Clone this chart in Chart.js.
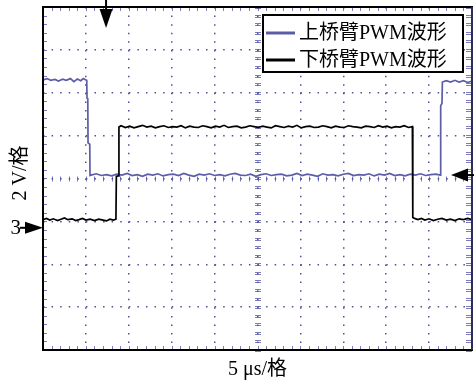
<!DOCTYPE html>
<html><head><meta charset="utf-8">
<script src="https://cdn.jsdelivr.net/npm/chart.js@4"></script>
<style>html,body{margin:0;padding:0;background:#fff;overflow:hidden}</style>
</head><body>
<canvas id="c" width="474" height="380"></canvas>
<script>
// ---- data ----
const seriesNames = ['上桥臂PWM波形', '下桥臂PWM波形'];
const xLabel = '5 μs/格';
const yLabel = '2 V/格';
const channelMark = '3';
const xTicks = [0, 5, 10, 15, 20, 25, 30, 35, 40, 45, 50];      // μs
const yTicks = [-8, -6, -4, -2, 0, 2, 4, 6, 8];                 // V
const triggerTime = 7.35;     // μs
const triggerLevel = 0.16;    // V
const channelGround = -2.3;   // V

const upperTime = [0, 0.5, 0.9, 1.4, 1.8, 2.3, 2.7, 3.2, 3.6, 4.0, 4.4, 4.7, 5.0, 5.1, 5.13, 5.22, 5.25, 5.45, 5.48,
  5.6, 6.2, 6.8, 7.4, 8.0, 8.6, 9.2, 9.8, 10.4, 11.0, 11.6, 12.2, 12.8, 13.4, 14.0, 14.6, 15.2, 15.8, 16.4, 17.0,
  17.6, 18.2, 18.8, 19.4, 20.0, 20.6, 21.2, 21.8, 22.4, 23.0, 23.6, 24.2, 24.8, 25.4, 26.0, 26.6, 27.2, 27.8,
  28.4, 29.0, 29.6, 30.2, 30.8, 31.4, 32.0, 32.6, 33.2, 33.8, 34.4, 35.0, 35.6, 36.2, 36.8, 37.4, 38.0, 38.6,
  39.2, 39.8, 40.4, 41.0, 41.6, 42.2, 42.8, 43.4, 44.0, 44.6, 45.2, 45.8, 46.3,
  46.35, 46.5, 46.55, 47.0, 47.5, 48.0, 48.5, 49.0, 49.5, 50];
const upperVolt = [4.60, 4.66, 4.58, 4.62, 4.55, 4.63, 4.58, 4.66, 4.52, 4.64, 4.56, 4.66, 4.60, 4.58, 3.75, 3.70, 1.66, 1.60, 0.14,
  0.16, 0.22, 0.14, 0.18, 0.12, 0.20, 0.16, 0.24, 0.14, 0.18, 0.10, 0.20, 0.16, 0.22, 0.12, 0.18, 0.20, 0.14, 0.24, 0.16,
  0.10, 0.20, 0.16, 0.22, 0.14, 0.18, 0.12, 0.20, 0.24, 0.16, 0.14, 0.20, 0.10, 0.18, 0.22, 0.14, 0.18, 0.20,
  0.12, 0.16, 0.24, 0.14, 0.20, 0.16, 0.10, 0.22, 0.16, 0.18, 0.12, 0.20, 0.24, 0.14, 0.18, 0.16, 0.22, 0.12,
  0.20, 0.16, 0.24, 0.14, 0.18, 0.12, 0.20, 0.16, 0.22, 0.14, 0.18, 0.20, 0.16,
  3.40, 3.50, 4.50, 4.56, 4.50, 4.58, 4.50, 4.56, 4.48, 4.54];

const lowerTime = [0, 0.4, 0.8, 1.2, 1.7, 2.1, 2.5, 2.9, 3.4, 3.8, 4.2, 4.6, 5.0, 5.5, 6.0, 6.5, 7.0, 7.4, 7.8, 8.2, 8.5,
  8.55, 8.75, 8.85,
  9.1, 9.6, 10.1, 10.6, 11.1, 11.6, 12.1, 12.6, 13.1, 13.6, 14.1, 14.6, 15.1, 15.6, 16.1, 16.6, 17.1, 17.6, 18.1,
  18.6, 19.1, 19.6, 20.1, 20.6, 21.1, 21.6, 22.1, 22.6, 23.1, 23.6, 24.1, 24.6, 25.1, 25.6, 26.1, 26.6, 27.1,
  27.6, 28.1, 28.6, 29.1, 29.6, 30.1, 30.6, 31.1, 31.6, 32.1, 32.6, 33.1, 33.6, 34.1, 34.6, 35.1, 35.6, 36.1,
  36.6, 37.1, 37.6, 38.1, 38.6, 39.1, 39.6, 40.1, 40.6, 41.1, 41.6, 42.1, 42.6, 43.05,
  43.1, 43.3, 43.7, 44.1, 44.5, 45.0, 45.5, 46.0, 46.5, 47.0, 47.5, 48.0, 48.5, 49.0, 49.5, 50];
const lowerVolt = [-1.92, -1.86, -1.94, -1.88, -1.96, -1.90, -1.84, -1.92, -1.88, -1.96, -1.92, -1.86, -1.94, -1.90, -1.96, -1.90, -1.94, -1.98, -1.90, -1.94, -1.90,
  0.10, 0.12, 2.40,
  2.46, 2.38, 2.44, 2.36, 2.42, 2.48, 2.40, 2.44, 2.36, 2.42, 2.46, 2.38, 2.42, 2.40, 2.46, 2.36, 2.44, 2.40, 2.38,
  2.46, 2.42, 2.36, 2.44, 2.40, 2.48, 2.38, 2.42, 2.44, 2.36, 2.40, 2.46, 2.42, 2.38, 2.44, 2.40, 2.36, 2.46,
  2.42, 2.38, 2.44, 2.40, 2.48, 2.36, 2.42, 2.44, 2.38, 2.40, 2.46, 2.42, 2.36, 2.44, 2.40, 2.38, 2.46, 2.42,
  2.40, 2.36, 2.44, 2.42, 2.38, 2.46, 2.40, 2.44, 2.36, 2.42, 2.40, 2.46, 2.38, 2.42,
  -1.82, -1.86, -1.92, -1.86, -1.94, -1.88, -1.96, -1.90, -1.86, -1.94, -1.90, -1.96, -1.88, -1.92, -1.86, -1.92];

// ---- styles ----
const upperColor = '#5b5ea6';
const lowerColor = '#000000';
const gridColor = 'rgba(70,70,150,0.95)';
const tickColor = 'rgba(80,80,160,0.75)';
const serif = '"Liberation Serif", "Noto Sans CJK SC", serif';

const toPoints = (ts, vs) => ts.map((t, i) => ({x: t, y: vs[i]}));

const scopePlugin = {
  id: 'scope',
  beforeDatasetsDraw(chart) {
    const {ctx, chartArea: a, scales: {x, y}} = chart;
    ctx.save();
    ctx.strokeStyle = tickColor;
    ctx.lineWidth = 1;
    const cx = Math.round(x.getPixelForValue(25)), cy = y.getPixelForValue(0);
    ctx.beginPath();
    for (let t = xTicks[0]; t <= xTicks[xTicks.length - 1] + 1e-9; t += (xTicks[1] - xTicks[0]) / 5) {
      const px = Math.round(x.getPixelForValue(t)) + 0.5;
      ctx.moveTo(px, cy - 2); ctx.lineTo(px, cy + 3);
      ctx.moveTo(px, a.top); ctx.lineTo(px, a.top + 4);
      ctx.moveTo(px, a.bottom - 4); ctx.lineTo(px, a.bottom);
    }
    for (let v = yTicks[0]; v <= yTicks[yTicks.length - 1] + 1e-9; v += (yTicks[1] - yTicks[0]) / 5) {
      const py = Math.round(y.getPixelForValue(v));
      ctx.moveTo(cx - 3, py - 0.5); ctx.lineTo(cx + 3, py - 0.5);
      ctx.moveTo(cx - 3, py + 1.5); ctx.lineTo(cx + 3, py + 1.5);
      ctx.moveTo(a.left, py + 0.5); ctx.lineTo(a.left + 4, py + 0.5);
      ctx.moveTo(a.right - 6, py - 0.5); ctx.lineTo(a.right, py - 0.5);
      ctx.moveTo(a.right - 6, py + 1.5); ctx.lineTo(a.right, py + 1.5);
    }
    ctx.stroke();
    ctx.restore();
  },
  afterDatasetsDraw(chart) {
    const {ctx, chartArea: a, scales: {x, y}} = chart;
    ctx.save();
    // frame
    ctx.strokeStyle = '#000';
    ctx.lineWidth = 2;
    ctx.strokeRect(a.left, a.top, a.right - a.left, a.bottom - a.top);
    ctx.strokeStyle = '#2c2c5a';
    ctx.beginPath(); ctx.moveTo(a.right, a.top); ctx.lineTo(a.right, a.bottom); ctx.stroke();

    // legend
    const lx = 263, ly = 15, lw = 200, lh = 57;
    ctx.fillStyle = '#fff';
    ctx.fillRect(lx, ly, lw, lh);
    ctx.strokeStyle = '#000';
    ctx.lineWidth = 2;
    ctx.strokeRect(lx, ly, lw, lh);
    ctx.font = '20px ' + serif;
    ctx.textBaseline = 'middle';
    ctx.textAlign = 'left';
    chart.data.datasets.forEach((ds, i) => {
      const ry = ly + 18 + i * 27;
      ctx.strokeStyle = ds.borderColor;
      ctx.lineWidth = 3;
      ctx.beginPath(); ctx.moveTo(lx + 3, ry); ctx.lineTo(lx + 32, ry); ctx.stroke();
      ctx.fillStyle = '#000';
      ctx.fillText(ds.label, lx + 36, ry + 1);
    });

    ctx.fillStyle = '#000';
    ctx.strokeStyle = '#000';
    ctx.lineWidth = 2;
    // trigger time marker (top)
    const tx = x.getPixelForValue(triggerTime);
    ctx.beginPath(); ctx.moveTo(tx, 0); ctx.lineTo(tx, a.top + 4); ctx.stroke();
    ctx.beginPath(); ctx.moveTo(tx - 6.5, a.top + 2); ctx.lineTo(tx + 6.5, a.top + 2); ctx.lineTo(tx, a.top + 21); ctx.closePath(); ctx.fill();
    // trigger level marker (right)
    const ty = y.getPixelForValue(triggerLevel);
    ctx.beginPath(); ctx.moveTo(a.right - 5, ty); ctx.lineTo(474, ty); ctx.stroke();
    ctx.beginPath(); ctx.moveTo(a.right - 4, ty - 6.5); ctx.lineTo(a.right - 4, ty + 6.5); ctx.lineTo(a.right - 21, ty); ctx.closePath(); ctx.fill();
    // channel ground marker (left)
    const gy = y.getPixelForValue(channelGround);
    ctx.beginPath(); ctx.moveTo(20, gy); ctx.lineTo(27, gy); ctx.stroke();
    ctx.beginPath(); ctx.moveTo(25, gy - 6); ctx.lineTo(25, gy + 6); ctx.lineTo(a.left, gy); ctx.closePath(); ctx.fill();
    ctx.font = '21px ' + serif;
    ctx.textAlign = 'right';
    ctx.textBaseline = 'middle';
    ctx.fillText(channelMark, 21, gy + 1);

    // axis labels
    ctx.font = '20px ' + serif;
    ctx.textAlign = 'center';
    ctx.textBaseline = 'alphabetic';
    ctx.fillText(xLabel, (a.left + a.right) / 2, 375);
    ctx.save();
    ctx.translate(26, 173);
    ctx.rotate(-Math.PI / 2);
    ctx.fillText(yLabel, 0, 0);
    ctx.restore();
    ctx.restore();
  }
};

const gridOpts = {color: gridColor, lineWidth: 1.5, drawTicks: false};
const borderOpts = {display: false, dash: [1.5, 7.08]};

new Chart(document.getElementById('c'), {
  type: 'line',
  data: {
    datasets: [
      {label: seriesNames[0], data: toPoints(upperTime, upperVolt), borderColor: upperColor, borderWidth: 1.7, pointRadius: 0, tension: 0, order: 1},
      {label: seriesNames[1], data: toPoints(lowerTime, lowerVolt), borderColor: lowerColor, borderWidth: 1.7, pointRadius: 0, tension: 0, order: 0}
    ]
  },
  options: {
    responsive: false,
    animation: false,
    devicePixelRatio: 1,
    layout: {padding: {left: 43, top: 7, right: 2, bottom: 30}},
    plugins: {legend: {display: false}, tooltip: {enabled: false}},
    scales: {
      x: {
        type: 'linear', min: xTicks[0], max: xTicks[xTicks.length - 1],
        afterBuildTicks: s => { s.ticks = xTicks.map(v => ({value: v})); },
        ticks: {display: false}, grid: gridOpts, border: borderOpts
      },
      y: {
        type: 'linear', min: yTicks[0], max: yTicks[yTicks.length - 1],
        afterBuildTicks: s => { s.ticks = yTicks.map(v => ({value: v})); },
        ticks: {display: false}, grid: gridOpts, border: borderOpts
      }
    }
  },
  plugins: [scopePlugin]
});
</script>
</body></html>
